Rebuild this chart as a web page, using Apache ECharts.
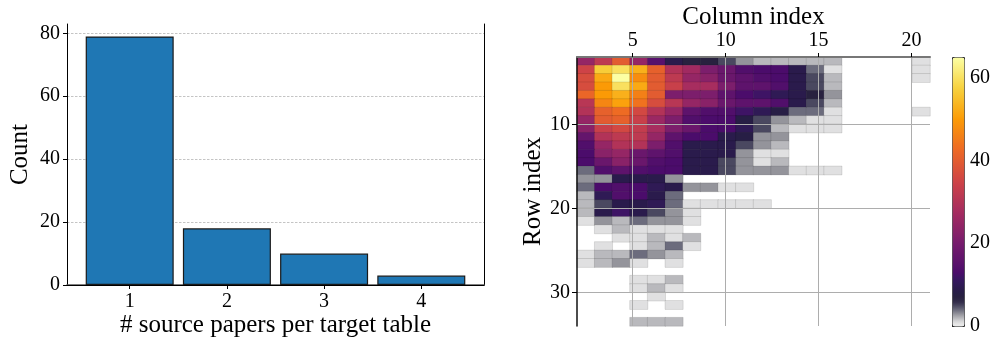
<!DOCTYPE html>
<html><head><meta charset="utf-8">
<script src="https://cdn.jsdelivr.net/npm/echarts@6/dist/echarts.min.js"></script>
<style>html,body{margin:0;padding:0;background:#fff}#c{width:997px;height:343px}</style>
</head><body><div id="c"></div>
<script>
// ---------- data ----------
const barCategories = [1, 2, 3, 4];
const barCounts = [79, 18, 10, 3];
const countTicks = [0, 20, 40, 60, 80];
const columnTicks = [5, 10, 15, 20];
const rowTicks = [10, 20, 30];
const colorbarTicks = [0, 20, 40, 60];
// heatmap: 32 rows x 20 columns (0 = empty cell)
const heatRows = [
  [25,32,40,25,15, 9, 7, 7, 5, 3, 2, 2, 2, 2, 2, 0, 0, 0, 0, 1],
  [35,57,60,53,41,30,27,21,18,14,13,13, 9, 4, 1, 0, 0, 0, 0, 1],
  [37,52,65,48,40,32,25,23,18,16,14,13, 9, 5, 2, 0, 0, 0, 0, 1],
  [37,50,60,52,40,34,28,28,21,16,16,14, 9, 5, 2, 0, 0, 0, 0, 0],
  [42,50,53,46,40,21,21,21,16,13,12,10, 9, 7, 3, 0, 0, 0, 0, 0],
  [31,47,51,44,37,31,25,23,18,16,16,14, 9, 5, 2, 0, 0, 0, 0, 0],
  [30,41,43,36,30,25,16,14,14,12,10, 8, 4, 4, 1, 0, 0, 0, 0, 1],
  [25,40,41,34,26,21,14,13,13, 8, 5, 3, 2, 1, 1, 0, 0, 0, 0, 0],
  [23,34,36,33,28,21,18,13,13,10, 5, 2, 1, 1, 1, 0, 0, 0, 0, 0],
  [17,30,32,32,25,16,13,13, 9, 8, 3, 3, 0, 0, 0, 0, 0, 0, 0, 0],
  [14,25,30,30,21,14, 9, 9, 9, 5, 3, 2, 0, 0, 0, 0, 0, 0, 0, 0],
  [13,23,25,18,16,14, 9, 9, 9, 3, 1, 1, 0, 0, 0, 0, 0, 0, 0, 0],
  [13,18,23,18,14,13, 9, 9, 5, 3, 1, 2, 0, 0, 0, 0, 0, 0, 0, 0],
  [ 4,14,16,14,13,13, 9, 9, 5, 3, 3, 3, 1, 1, 1, 0, 0, 0, 0, 0],
  [ 3, 3, 9, 9, 9, 3, 0, 0, 0, 0, 0, 0, 0, 0, 0, 0, 0, 0, 0, 0],
  [ 4,13,14,13,10, 9, 3, 3, 1, 1, 0, 0, 0, 0, 0, 0, 0, 0, 0, 0],
  [ 2,10,14,13, 9, 4, 0, 0, 0, 0, 0, 0, 0, 0, 0, 0, 0, 0, 0, 0],
  [ 2, 5, 9, 9,10, 4, 1, 1, 1, 1, 1, 0, 0, 0, 0, 0, 0, 0, 0, 0],
  [ 2, 9,12, 9, 5, 3, 1, 0, 0, 0, 0, 0, 0, 0, 0, 0, 0, 0, 0, 0],
  [ 1, 3, 2, 4, 3, 3, 1, 0, 0, 0, 0, 0, 0, 0, 0, 0, 0, 0, 0, 0],
  [ 0, 1, 2, 1, 1, 1, 0, 0, 0, 0, 0, 0, 0, 0, 0, 0, 0, 0, 0, 0],
  [ 0, 0, 1, 1, 2, 1, 2, 0, 0, 0, 0, 0, 0, 0, 0, 0, 0, 0, 0, 0],
  [ 0, 1, 0, 1, 2, 4, 1, 0, 0, 0, 0, 0, 0, 0, 0, 0, 0, 0, 0, 0],
  [ 1, 2, 2, 4, 3, 2, 0, 0, 0, 0, 0, 0, 0, 0, 0, 0, 0, 0, 0, 0],
  [ 1, 2, 3, 1, 0, 1, 0, 0, 0, 0, 0, 0, 0, 0, 0, 0, 0, 0, 0, 0],
  [ 0, 0, 0, 0, 0, 0, 0, 0, 0, 0, 0, 0, 0, 0, 0, 0, 0, 0, 0, 0],
  [ 0, 0, 0, 1, 1, 2, 0, 0, 0, 0, 0, 0, 0, 0, 0, 0, 0, 0, 0, 0],
  [ 0, 0, 0, 1, 2, 1, 0, 0, 0, 0, 0, 0, 0, 0, 0, 0, 0, 0, 0, 0],
  [ 0, 0, 0, 0, 1, 0, 0, 0, 0, 0, 0, 0, 0, 0, 0, 0, 0, 0, 0, 0],
  [ 0, 0, 0, 1, 0, 1, 0, 0, 0, 0, 0, 0, 0, 0, 0, 0, 0, 0, 0, 0],
  [ 0, 0, 0, 0, 0, 0, 0, 0, 0, 0, 0, 0, 0, 0, 0, 0, 0, 0, 0, 0],
  [ 0, 0, 0, 2, 2, 2, 0, 0, 0, 0, 0, 0, 0, 0, 0, 0, 0, 0, 0, 0]
];
const colorMin = 0, colorMax = 65;

// ---------- colour map (gray for low counts, then inferno) ----------
const lowStops = ['#ededed','#e0e0e1','#b9b9bd','#94949b','#6c6c7d','#4a4860','#302a48',
                  '#28213f','#271e45','#2a1b4c','#2f1a55','#35175e','#3e1465'];
const infStops = ['#4a0c6b','#781c6d','#a52c60','#cf4446','#ed6925','#fb9b06','#f7d13d','#fcffa4'];
function hex2rgb(h){return [1,3,5].map(i=>parseInt(h.substr(i,2),16));}
function rgb2hex(a){return '#'+a.map(x=>Math.round(x).toString(16).padStart(2,'0')).join('');}
function mix(a,b,t){const A=hex2rgb(a),B=hex2rgb(b);return rgb2hex(A.map((x,i)=>x+(B[i]-x)*t));}
function cmap(v){
  if (v <= 12) return lowStops[Math.round(v)];
  const start = 12.8, step = (colorMax - start) / (infStops.length - 1);
  if (v < start) return mix(lowStops[12], infStops[0], (v - 12) / (start - 12));
  const p = Math.min((v - start) / step, infStops.length - 1.0001);
  const k = Math.floor(p);
  return mix(infStops[k], infStops[k + 1], p - k);
}
const cmapList = [];
for (let v = colorMin; v <= colorMax; v++) cmapList.push(cmap(v));

// ---------- build series data ----------
const barData = barCategories.map((c, i) => [c, barCounts[i]]);
const colCats = heatRows[0].map((_, i) => String(i));
const rowCats = heatRows.map((_, i) => String(i));
const heatData = [];
heatRows.forEach((row, r) => row.forEach((v, c) => { if (v > 0) heatData.push([c, r, v]); }));

const FONT = 'Liberation Serif';
const lab = {color: '#000', fontSize: 20, fontFamily: FONT};
const nameStyle = {color: '#000', fontSize: 25, fontFamily: FONT};

const chart = echarts.init(document.getElementById('c'), null, {renderer: 'canvas'});
chart.setOption({
  animation: false,
  backgroundColor: '#fff',
  textStyle: {fontFamily: FONT},
  grid: [
    {left: 67, top: 24, width: 417, height: 261, outerBoundsMode: 'none', containLabel: false},
    {left: 577, top: 57, width: 353, height: 269, outerBoundsMode: 'none', containLabel: false},
    {left: 952, top: 57, width: 12, height: 269, outerBoundsMode: 'none', containLabel: false}
  ],
  xAxis: [
    {type: 'value', gridIndex: 0, position: 'bottom', min: 0.355, max: 4.645,
     axisLine: {show: true, lineStyle: {color: '#555', width: 1.6}},
     axisTick: {show: true, customValues: barCategories, length: 4, lineStyle: {color: '#000'}},
     axisLabel: {customValues: barCategories, margin: 7, ...lab},
     splitLine: {show: false},
     name: '# source papers per target table', nameLocation: 'middle', nameGap: 28,
     nameMoveOverlap: false, nameTextStyle: nameStyle},
    {type: 'value', gridIndex: 0, position: 'top', min: 0.355, max: 4.645,
     axisLine: {show: true, lineStyle: {color: '#000', width: 1}},
     axisTick: {show: false}, axisLabel: {show: false}, splitLine: {show: false}},
    {type: 'category', gridIndex: 1, data: colCats, show: false},
    {type: 'value', gridIndex: 1, position: 'top', min: 2, max: 21, z: 5,
     axisLine: {show: true, lineStyle: {color: '#777', width: 2}},
     axisTick: {show: true, customValues: columnTicks, length: 4, lineStyle: {color: '#000'}},
     axisLabel: {customValues: columnTicks, margin: 6, ...lab},
     splitLine: {show: true, lineStyle: {color: '#adadad', width: 1}},
     name: 'Column index', nameLocation: 'middle', nameGap: 27,
     nameMoveOverlap: false, nameTextStyle: nameStyle},
    {type: 'value', gridIndex: 2, min: 0, max: 1, show: false}
  ],
  yAxis: [
    {type: 'value', gridIndex: 0, position: 'left', min: 0, max: 82.95,
     axisLine: {show: true, lineStyle: {color: '#000', width: 1}},
     axisTick: {show: true, customValues: countTicks, length: 4, lineStyle: {color: '#000'}},
     axisLabel: {customValues: countTicks, margin: 7, ...lab},
     splitLine: {show: true, lineStyle: {color: '#b5b5b5', width: 0.8, type: [2.5, 1.5]}},
     name: 'Count', nameLocation: 'middle', nameGap: 34, nameTextStyle: nameStyle},
    {type: 'value', gridIndex: 0, position: 'right', min: 0, max: 82.95,
     axisLine: {show: true, lineStyle: {color: '#000', width: 1}},
     axisTick: {show: false}, axisLabel: {show: false}, splitLine: {show: false}},
    {type: 'category', gridIndex: 1, data: rowCats, inverse: true, show: false, position: 'right'},
    {type: 'value', gridIndex: 1, position: 'left', inverse: true, min: 2, max: 34, z: 5,
     axisLine: {show: true, lineStyle: {color: '#111', width: 1.5}},
     axisTick: {show: true, customValues: rowTicks, length: 5, lineStyle: {color: '#000'}},
     axisLabel: {customValues: rowTicks, margin: 7, ...lab},
     splitLine: {show: true, lineStyle: {color: '#adadad', width: 1}},
     name: 'Row index', nameLocation: 'middle', nameGap: 27, nameTextStyle: nameStyle},
    {type: 'value', gridIndex: 2, position: 'right', min: colorMin, max: colorMax,
     axisLine: {show: false},
     axisTick: {show: true, customValues: colorbarTicks, length: 3, lineStyle: {color: '#000'}},
     axisLabel: {customValues: colorbarTicks, margin: 6, ...lab},
     splitLine: {show: false}}
  ],
  visualMap: {
    type: 'continuous', seriesIndex: 1, dimension: 2,
    min: colorMin, max: colorMax, orient: 'vertical',
    left: 952, top: 57, itemWidth: 12, itemHeight: 269, padding: 0,
    calculable: false, hoverLink: false,
    borderColor: '#333', borderWidth: 1,
    inRange: {color: cmapList}
  },
  series: [
    {type: 'bar', xAxisIndex: 0, yAxisIndex: 0, data: barData, barWidth: 88,
     itemStyle: {color: '#1f77b4', borderColor: '#1a1a1a', borderWidth: 1.2}},
    {type: 'heatmap', xAxisIndex: 2, yAxisIndex: 2, data: heatData,
     itemStyle: {borderColor: 'rgba(0,0,0,0.18)', borderWidth: 0.6}}
  ]
});
</script></body></html>
